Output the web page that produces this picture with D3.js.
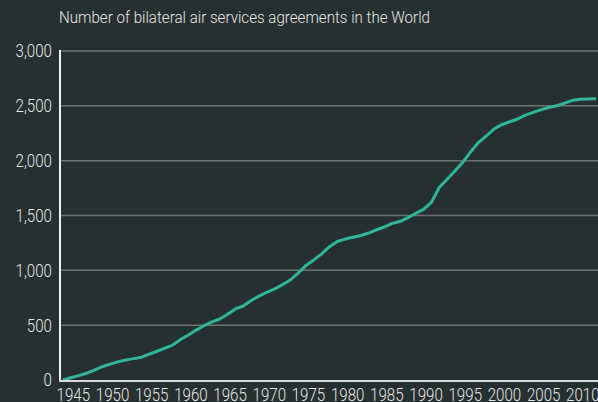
<!DOCTYPE html>
<html>
<head>
<meta charset="utf-8">
<script src="https://cdn.jsdelivr.net/npm/d3@7"></script>
<style>
  html, body { margin: 0; padding: 0; background: #263030; }
  svg { display: block; }
  text { font-family: Roboto, "Liberation Sans", sans-serif; font-weight: 300; fill: #e6e6e6; }
</style>
</head>
<body>
<div id="chart"></div>
<script>
// Données
const years = d3.range(1944, 2013);
const agreements = [
    0, 20, 40, 61, 90, 121, 145, 165, 182, 195,
    207, 235, 262, 290, 319, 370, 410, 455, 495, 530,
    556, 600, 648, 675, 725, 765, 800, 830, 870, 912,
    975, 1045, 1095, 1150, 1216, 1263, 1285, 1302, 1318, 1340,
    1370, 1395, 1428, 1445, 1480, 1520, 1555, 1620, 1755, 1830,
    1905, 1985, 2080, 2165, 2225, 2290, 2330, 2355, 2380, 2415,
    2440, 2465, 2485, 2501, 2525, 2550, 2560, 2563, 2565
];
const xTicks = d3.range(1945, 2011, 5);
const yTicks = [0, 500, 1000, 1500, 2000, 2500, 3000];
const title = 'Number of bilateral air services agreements in the World';

const width = 598;
const height = 402;
const squeeze = 0.84; // police étroite simulée

const svg = d3.select('#chart')
    .append('svg')
    .attr('width', width)
    .attr('height', height);

svg.append('rect')
    .attr('width', width)
    .attr('height', height)
    .attr('fill', '#263030');

const x = d3.scaleLinear().domain([1944, 2012]).range([63, 596]);
const y = d3.scaleLinear().domain([0, 3000]).range([380, 51]);

// Titre
svg.append('text')
    .attr('x', 59)
    .attr('y', 23)
    .attr('textLength', 371)
    .attr('lengthAdjust', 'spacingAndGlyphs')
    .style('font-size', '17px')
    .text(title);

// Grille
svg.append('g')
    .selectAll('line')
    .data(yTicks.filter(d => d > 0))
    .enter()
    .append('line')
    .attr('x1', 60)
    .attr('x2', width)
    .attr('y1', d => y(d))
    .attr('y2', d => y(d))
    .attr('stroke', '#6e7272')
    .attr('stroke-width', 1.5);

// Étiquettes de l'axe Y
svg.append('g')
    .selectAll('text')
    .data(yTicks)
    .enter()
    .append('text')
    .attr('transform', d => `translate(52,${y(d)}) scale(${squeeze},1)`)
    .attr('dy', '0.36em')
    .attr('text-anchor', 'end')
    .style('font-size', '18px')
    .text(d3.format(','));

// Étiquettes de l'axe X
svg.append('g')
    .selectAll('text')
    .data(xTicks)
    .enter()
    .append('text')
    .attr('transform', d => `translate(${x(d) + 2.5},401) scale(${squeeze},1)`)
    .attr('text-anchor', 'middle')
    .style('font-size', '18px')
    .text(d => d);

// Courbe
const line = d3.line()
    .x((d, i) => x(years[i]))
    .y(d => y(d));

svg.append('path')
    .datum(agreements)
    .attr('d', line)
    .attr('fill', 'none')
    .attr('stroke', '#2fb699')
    .attr('stroke-width', 3)
    .attr('stroke-linejoin', 'round');

// Axes
svg.append('line')
    .attr('x1', 60).attr('x2', 60)
    .attr('y1', 50).attr('y2', 381)
    .attr('stroke', '#f0f0f0')
    .attr('stroke-width', 2);

svg.append('line')
    .attr('x1', 59).attr('x2', width)
    .attr('y1', 381).attr('y2', 381)
    .attr('stroke', '#d8d8d8')
    .attr('stroke-width', 2);
</script>
</body>
</html>
